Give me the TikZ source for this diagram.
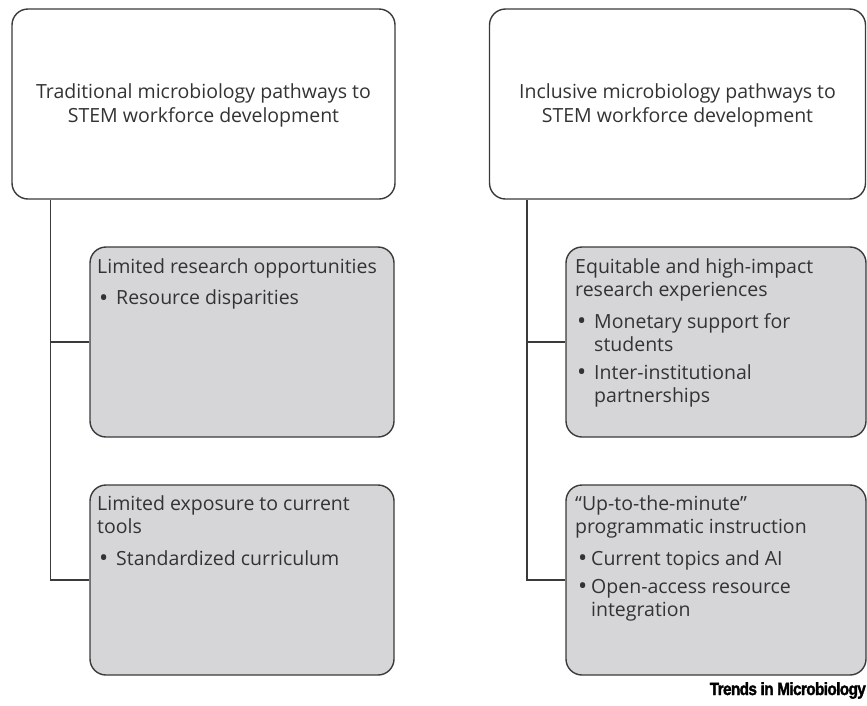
\documentclass[tikz,border=0pt]{standalone}
\usepackage{fontspec}
\setmainfont{Open Sans}
\newfontfamily\logofont[LetterSpace=-4,FakeBold=2]{Liberation Sans Bold}
\definecolor{ink}{HTML}{333333}
\definecolor{boxgrey}{HTML}{D6D6D9}
\definecolor{edge}{HTML}{3A3A3A}
\newcommand{\ind}{\hspace*{19pt}}
\newcommand{\indb}{\hspace*{16pt}}
\newcommand{\bl}{\raisebox{-1.8pt}{\scalebox{1.25}{•}}}
\begin{document}
\begin{tikzpicture}[x=1pt,y=-1pt,
  headbox/.style={draw=edge,line width=1.4pt,rounded corners=16pt,fill=white,inner sep=0pt},
  subbox/.style={draw=edge,line width=1.4pt,rounded corners=16pt,fill=boxgrey,inner sep=0pt},
  headtext/.style={text=ink,align=center,font=\fontsize{19.5}{23.5}\selectfont,inner sep=0pt},
  subtext/.style={text=ink,align=left,font=\fontsize{19.5}{23.5}\selectfont,inner sep=0pt,anchor=north west},
  link/.style={draw=edge,line width=1.4pt}]
\useasboundingbox (0,0) rectangle (867,705);
% top boxes
\node[headbox,minimum width=383pt,minimum height=190pt] (topL) at (203.5,104) {};
\node[headtext] (topLt) at (203.5,105.5) {Traditional microbiology pathways to\\STEM workforce development};
\node[headbox,minimum width=376pt,minimum height=190pt] (topR) at (677.5,104) {};
\node[headtext] (topRt) at (677.5,105.5) {Inclusive microbiology pathways to\\STEM workforce development};
% left sub boxes
\node[subbox,minimum width=304pt,minimum height=190pt] (l1) at (242,342) {};
\node[subtext] (l1t) at (97,258) {Limited research opportunities\\[8pt]\ind\llap{\bl\hspace{8pt}}Resource disparities};
\node[subbox,minimum width=304pt,minimum height=190pt] (l2) at (242,580) {};
\node[subtext] (l2t) at (97,495) {Limited exposure to current\\tools\\[8pt]\ind\llap{\bl\hspace{8pt}}Standardized curriculum};
% right sub boxes
\node[subbox,minimum width=300pt,minimum height=190pt] (r1) at (716,342) {};
\node[subtext] (r1t) at (575,258) {Equitable and high-impact\\research experiences\\[8pt]\ind\llap{\bl\hspace{8pt}}Monetary support for\\\ind students\\[4pt]\ind\llap{\bl\hspace{8pt}}Inter-institutional\\\ind partnerships};
\node[subbox,minimum width=300pt,minimum height=190pt] (r2) at (716,580) {};
\node[subtext] (r2t) at (575,495) {“Up-to-the-minute”\\programmatic instruction\\[8pt]\indb\llap{\bl\hspace{4pt}}Current topics and AI\\[4.5pt]\indb\llap{\bl\hspace{4pt}}Open-access resource\\\indb integration};
% connectors
\draw[link] ([xshift=39pt]topL.south west) |- (l2.west);
\draw[link] ([xshift=39pt]topL.south west |- l1.west) -- (l1.west);
\draw[link] ([xshift=38pt]topR.south west) |- (r2.west);
\draw[link] ([xshift=38pt]topR.south west |- r1.west) -- (r1.west);
% logo
\node[anchor=base east,inner sep=0pt,text=black] (logo) at (866,695) {\resizebox{156pt}{12.8pt}{\logofont Trends in Microbiology}};
\end{tikzpicture}
\end{document}
